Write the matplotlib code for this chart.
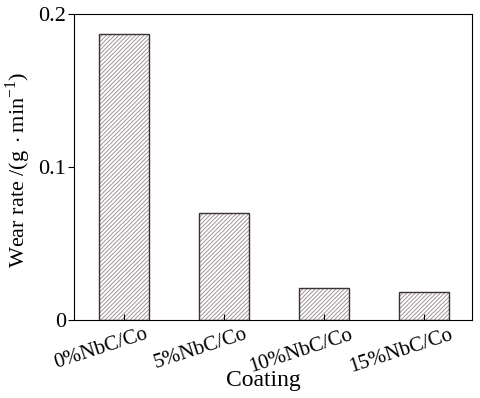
import numpy as np
import matplotlib
matplotlib.use('Agg')
import matplotlib.pyplot as plt
import matplotlib.transforms as mtransforms

plt.rcParams['font.family'] = ['Liberation Serif', 'DejaVu Serif']
plt.rcParams['mathtext.fontset'] = 'custom'
plt.rcParams['mathtext.rm'] = 'Liberation Serif'
plt.rcParams['hatch.linewidth'] = 0.7

# wear rate of each coating
coatings = ['0%NbC/Co', '5%NbC/Co', '10%NbC/Co', '15%NbC/Co']
wear_rate = [0.187, 0.070, 0.021, 0.018]

fig = plt.figure(figsize=(4.8, 3.98), dpi=100)
ax = fig.add_axes([0.154, 0.196, 0.829, 0.769])

x = np.arange(len(coatings))
# hatch in gray, then outline in dark
ax.bar(x, wear_rate, width=0.5, color='white', edgecolor='#a09494',
       hatch='////////', linewidth=0)
ax.bar(x, wear_rate, width=0.5, fill=False, edgecolor='#3a3232', linewidth=1.0)

ax.set_xlim(-0.5, 3.48)
ax.set_ylim(0, 0.2)
ax.set_yticks([0, 0.1, 0.2])
ax.set_yticklabels(['0', '0.1', '0.2'], fontsize=16)
ax.set_xticks(x)
ax.set_xticklabels([])
ax.tick_params(axis='x', direction='in', length=4)
ax.tick_params(axis='y', direction='out', length=4, pad=1.5)

# rotated category labels, shifted a bit left of the ticks
trans = mtransforms.blended_transform_factory(ax.transData, ax.transAxes)
shift = mtransforms.ScaledTranslation(-0.23, -0.05, fig.dpi_scale_trans)
for xi, lab in zip(x, coatings):
    ax.text(xi, 0, lab, transform=trans + shift, rotation=18,
            ha='center', va='top', fontsize=15)

ax.set_xlabel('Coating', fontsize=17, va='top')
ax.xaxis.set_label_coords(0.475, -0.163)
ax.set_ylabel(r'Wear rate /(g$\,\cdot$min$^{-1}$)', fontsize=16)
ax.yaxis.set_label_coords(-0.103, 0.49)

fig.savefig('out.png', dpi=100)
